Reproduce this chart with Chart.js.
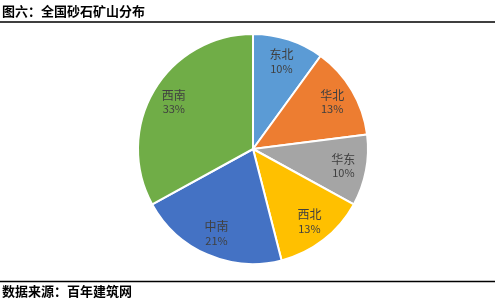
<!DOCTYPE html>
<html>
<head>
<meta charset="utf-8">
<script src="https://cdn.jsdelivr.net/npm/chart.js@4/dist/chart.umd.min.js"></script>
<style>
  html, body { margin: 0; padding: 0; background: #ffffff; }
  #wrap { position: relative; width: 496px; height: 303px; }
</style>
</head>
<body>
<div id="wrap"><canvas id="c" width="496" height="303"></canvas></div>
<script>
// Regional distribution of sand and gravel mines (percent)
const regions = ['东北', '华北', '华东', '西北', '中南', '西南'];
const shares = [10, 13, 10, 13, 21, 33];
const sliceColors = ['#5B9BD5', '#ED7D31', '#A5A5A5', '#FFC000', '#4472C4', '#70AD47'];
const titleText = '图六：全国砂石矿山分布';
const sourceText = '数据来源：百年建筑网';

const CJK = '"Noto Sans CJK SC", "Microsoft YaHei", sans-serif';

// Header / footer text with rules
const framePlugin = {
  id: 'frame',
  afterDraw(chart) {
    const ctx = chart.ctx;
    ctx.save();
    ctx.fillStyle = '#000000';
    ctx.textBaseline = 'middle';
    ctx.textAlign = 'left';
    ctx.font = 'bold 13px ' + CJK;
    ctx.fillText(titleText, 2, 11);
    ctx.fillText(sourceText, 2, 291);
    ctx.strokeStyle = '#000000';
    ctx.lineWidth = 1.5;
    ctx.beginPath();
    ctx.moveTo(0, 22); ctx.lineTo(495, 22);
    ctx.moveTo(0, 281.5); ctx.lineTo(495, 281.5);
    ctx.stroke();
    ctx.restore();
  }
};

// Category name and percentage inside each slice
const sliceLabels = {
  id: 'sliceLabels',
  afterDatasetsDraw(chart) {
    const ctx = chart.ctx;
    const meta = chart.getDatasetMeta(0);
    ctx.save();
    ctx.fillStyle = '#404040';
    ctx.textAlign = 'center';
    ctx.textBaseline = 'middle';
    meta.data.forEach((arc, i) => {
      const p = arc.getProps(['x', 'y', 'startAngle', 'endAngle', 'outerRadius'], true);
      const mid = (p.startAngle + p.endAngle) / 2;
      const r = p.outerRadius * 0.8;
      const x = p.x + Math.cos(mid) * r;
      const y = p.y + Math.sin(mid) * r;
      ctx.font = '12px ' + CJK;
      ctx.fillText(regions[i], x, y - 7);
      ctx.font = '11px ' + CJK;
      ctx.fillText(shares[i] + '%', x, y + 7);
    });
    ctx.restore();
  }
};

new Chart(document.getElementById('c'), {
  type: 'pie',
  data: {
    labels: regions,
    datasets: [{
      data: shares,
      backgroundColor: sliceColors,
      borderColor: '#ffffff',
      borderWidth: 2
    }]
  },
  options: {
    responsive: false,
    animation: false,
    layout: { padding: { left: 137, right: 127, top: 33, bottom: 38 } },
    plugins: {
      legend: { display: false },
      tooltip: { enabled: false },
      title: { display: false }
    }
  },
  plugins: [framePlugin, sliceLabels]
});
</script>
</body>
</html>
